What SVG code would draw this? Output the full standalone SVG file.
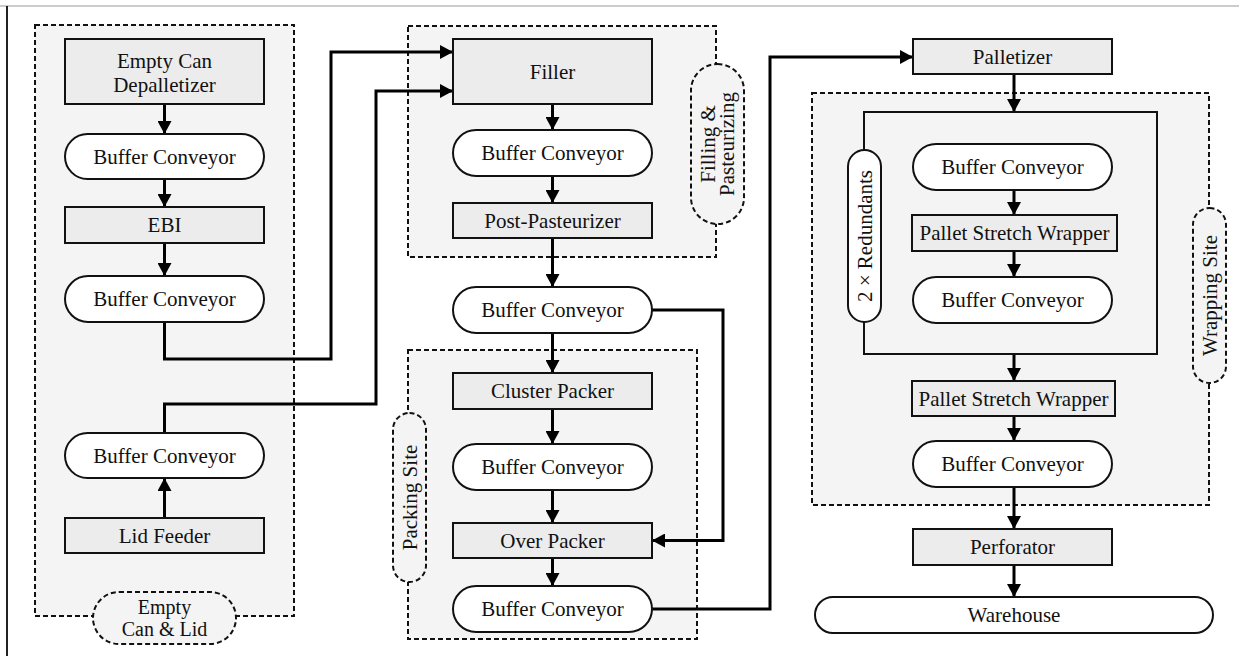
<svg xmlns="http://www.w3.org/2000/svg" width="1239" height="656" viewBox="0 0 1239 656">
<style>
.cl{fill:#f4f4f4;stroke:#111;stroke-width:2;stroke-dasharray:5 3}
.lb{fill:#f4f4f4;stroke:#111;stroke-width:2;stroke-dasharray:5 3}
.rc{fill:#ececec;stroke:#111;stroke-width:2}
.st{fill:#fff;stroke:#111;stroke-width:2}
.inner{fill:none;stroke:#111;stroke-width:2}
.cn{fill:none;stroke:#000;stroke-width:3;marker-end:url(#ah)}
text{font-family:"Liberation Serif","Times New Roman",serif;font-size:21px;fill:#111;text-anchor:middle}
.sm{font-size:20px}
</style>
<defs>
<marker id="ah" markerUnits="userSpaceOnUse" markerWidth="14" markerHeight="14" refX="13" refY="7" orient="auto">
<path d="M0,0 L13,7 L0,14 z" fill="#000"/>
</marker>
</defs>
<rect x="0" y="0" width="1239" height="656" fill="#fff"/>
<line x1="0" y1="6" x2="1239" y2="6" stroke="#bbb" stroke-width="1.5"/>
<line x1="7" y1="6" x2="7" y2="656" stroke="#222" stroke-width="2"/>

<g id="clusters">
<rect class="cl" x="35" y="25" width="259" height="591"/>
<rect class="cl" x="408" y="26" width="308" height="231"/>
<rect class="cl" x="408" y="350" width="289" height="289"/>
<rect class="cl" x="812" y="93" width="397" height="412"/>
</g>

<g id="connectors">
<path class="cn" d="M164.5,104 V134"/>
<path class="cn" d="M164.5,179 V207"/>
<path class="cn" d="M164.5,243 V276"/>
<path class="cn" d="M164.5,518 V478"/>
<path class="cn" d="M164.5,322 V359 H331 V52 H453"/>
<path class="cn" d="M164.5,433 V404 H376 V91 H453"/>
<path class="cn" d="M552.5,104 V130"/>
<path class="cn" d="M552.5,176 V203"/>
<path class="cn" d="M552.5,238 V287"/>
<path class="cn" d="M552.5,333 V373"/>
<path class="cn" d="M552.5,409 V444"/>
<path class="cn" d="M552.5,490 V523"/>
<path class="cn" d="M552.5,558 V586"/>
<path class="cn" d="M652,310 H723 V540.5 H652"/>
<path class="cn" d="M652,609 H770 V57 H913"/>
<path class="cn" d="M1014,74 V112"/>
<path class="cn" d="M1014,190 V215"/>
<path class="cn" d="M1014,251 V277"/>
<path class="cn" d="M1014,354 V381"/>
<path class="cn" d="M1014,416 V441"/>
<path class="cn" d="M1014,487 V529"/>
<path class="cn" d="M1014,565 V597"/>
</g>

<g id="redundant-block">
<rect class="inner" x="864" y="112" width="293" height="242"/>
</g>

<g id="depalletizer"><rect class="rc" x="65" y="39" width="199" height="65"/><text x="164.5" y="68">Empty Can</text><text x="164.5" y="92">Depalletizer</text></g>
<g id="bc1"><rect class="st" x="65" y="134" width="199" height="45" rx="22.5"/><text x="164.5" y="164">Buffer Conveyor</text></g>
<g id="ebi"><rect class="rc" x="65" y="207" width="199" height="36"/><text x="164.5" y="232">EBI</text></g>
<g id="bc2"><rect class="st" x="65" y="276" width="199" height="46" rx="23"/><text x="164.5" y="306">Buffer Conveyor</text></g>
<g id="bc3"><rect class="st" x="65" y="433" width="199" height="45" rx="22.5"/><text x="164.5" y="463">Buffer Conveyor</text></g>
<g id="lidfeeder"><rect class="rc" x="65" y="518" width="199" height="35"/><text x="164.5" y="543">Lid Feeder</text></g>

<g id="filler"><rect class="rc" x="453" y="39" width="199" height="65"/><text x="552.5" y="79">Filler</text></g>
<g id="bc4"><rect class="st" x="453" y="130" width="199" height="46" rx="23"/><text x="552.5" y="160">Buffer Conveyor</text></g>
<g id="postpasteurizer"><rect class="rc" x="453" y="203" width="199" height="35"/><text x="552.5" y="228">Post-Pasteurizer</text></g>
<g id="bc5"><rect class="st" x="453" y="287" width="199" height="46" rx="23"/><text x="552.5" y="317">Buffer Conveyor</text></g>
<g id="clusterpacker"><rect class="rc" x="453" y="373" width="199" height="36"/><text x="552.5" y="398">Cluster Packer</text></g>
<g id="bc6"><rect class="st" x="453" y="444" width="199" height="46" rx="23"/><text x="552.5" y="474">Buffer Conveyor</text></g>
<g id="overpacker"><rect class="rc" x="453" y="523" width="199" height="35"/><text x="552.5" y="548">Over Packer</text></g>
<g id="bc7"><rect class="st" x="453" y="586" width="199" height="46" rx="23"/><text x="552.5" y="616">Buffer Conveyor</text></g>

<g id="palletizer"><rect class="rc" x="913" y="39" width="199" height="35"/><text x="1012.5" y="64">Palletizer</text></g>
<g id="bc8"><rect class="st" x="913" y="144" width="199" height="46" rx="23"/><text x="1012.5" y="174">Buffer Conveyor</text></g>
<g id="psw1"><rect class="rc" x="912" y="215" width="205" height="36"/><text x="1014.5" y="240">Pallet Stretch Wrapper</text></g>
<g id="bc9"><rect class="st" x="913" y="277" width="199" height="46" rx="23"/><text x="1012.5" y="307">Buffer Conveyor</text></g>
<g id="redundants"><rect class="st" x="848" y="150" width="33" height="172" rx="16.5"/><text transform="translate(864.5,236) rotate(-90)" y="7">2 × Redundants</text></g>
<g id="psw2"><rect class="rc" x="912" y="381" width="203" height="35"/><text x="1013.5" y="406">Pallet Stretch Wrapper</text></g>
<g id="bc10"><rect class="st" x="913" y="441" width="199" height="46" rx="23"/><text x="1012.5" y="471">Buffer Conveyor</text></g>
<g id="perforator"><rect class="rc" x="913" y="529" width="199" height="36"/><text x="1012.5" y="554">Perforator</text></g>
<g id="warehouse"><rect class="st" x="815" y="597" width="398" height="36" rx="18"/><text x="1014" y="622">Warehouse</text></g>

<g id="cluster-labels">
<g id="label-empty"><rect class="lb" x="93" y="592" width="143" height="52" rx="26"/><text class="sm" x="164.5" y="614">Empty</text><text class="sm" x="164.5" y="636">Can &amp; Lid</text></g>
<g id="label-filling"><rect class="lb" x="691" y="64" width="53" height="160" rx="26.5"/><text transform="translate(717.5,144) rotate(-90)"><tspan x="0" y="-3">Filling &amp;</tspan><tspan x="0" y="16">Pasteurizing</tspan></text></g>
<g id="label-packing"><rect class="lb" x="393" y="413" width="33" height="169" rx="16.5"/><text transform="translate(409.5,497.5) rotate(-90)" y="7">Packing Site</text></g>
<g id="label-wrapping"><rect class="lb" x="1193" y="208" width="33" height="175" rx="16.5"/><text transform="translate(1209.5,295.5) rotate(-90)" y="7">Wrapping Site</text></g>
</g>
</svg>
